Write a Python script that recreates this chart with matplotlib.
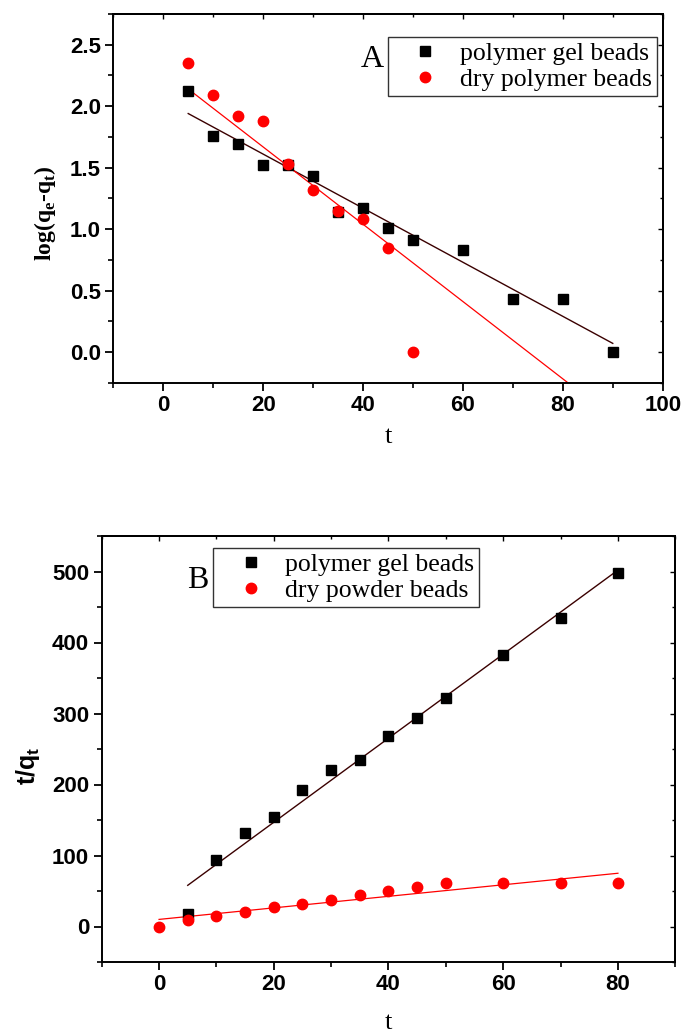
import matplotlib
matplotlib.use('Agg')
import matplotlib.pyplot as plt
from matplotlib.ticker import MultipleLocator

# ---------------- data: panel A (pseudo-first-order) ----------------
tA_gel = [5, 10, 15, 20, 25, 30, 35, 40, 45, 50, 60, 70, 80, 90]
logA_gel = [2.12, 1.76, 1.69, 1.52, 1.52, 1.43, 1.14, 1.17, 1.01, 0.91, 0.83, 0.43, 0.43, 0.00]
tA_dry = [5, 10, 15, 20, 25, 30, 35, 40, 45, 50]
logA_dry = [2.35, 2.09, 1.92, 1.88, 1.53, 1.32, 1.15, 1.08, 0.85, 0.00]
fitA_gel_t = [5, 90]
fitA_gel_y = [1.94, 0.07]
fitA_dry_t = [5, 81]
fitA_dry_y = [2.14, -0.25]
labelsA = ['polymer gel beads', 'dry polymer beads']

# ---------------- data: panel B (pseudo-second-order) ----------------
tB_gel = [5, 10, 15, 20, 25, 30, 35, 40, 45, 50, 60, 70, 80]
B_gel = [17, 94, 132, 154, 192, 220, 234, 269, 294, 322, 383, 435, 498]
tB_dry = [0, 5, 10, 15, 20, 25, 30, 35, 40, 45, 50, 60, 70, 80]
B_dry = [0, 9, 15, 21, 27, 32, 37, 44, 50, 55, 61, 61, 61, 61]
fitB_gel_t = [5, 80]
fitB_gel_y = [58, 502]
fitB_dry_t = [0, 80]
fitB_dry_y = [10, 75]
labelsB = ['polymer gel beads', 'dry powder beads']

W, H = 682, 1033
fig = plt.figure(figsize=(W / 100, H / 100), dpi=100)

SERIF = 'Liberation Serif'
SANS = 'Liberation Sans'
FIT_BLACK = '#3a0000'


def px_axes(l, r, t, b):
    return fig.add_axes([l / W, 1 - b / H, (r - l) / W, (b - t) / H])


def style(ax, xmaj, xmin, ymaj, ymin):
    for s in ax.spines.values():
        s.set_linewidth(1.4)
    ax.xaxis.set_major_locator(MultipleLocator(xmaj))
    ax.xaxis.set_minor_locator(MultipleLocator(xmin))
    ax.yaxis.set_major_locator(MultipleLocator(ymaj))
    ax.yaxis.set_minor_locator(MultipleLocator(ymin))
    ax.tick_params(which='major', direction='out', length=6, width=1.3, pad=3.0,
                   top=False, right=False)
    ax.tick_params(which='minor', direction='out', length=3.5, width=1.2,
                   top=False, right=False)
    ax2 = ax.secondary_xaxis('top')
    ax2.xaxis.set_major_locator(MultipleLocator(xmaj))
    ax2.xaxis.set_minor_locator(MultipleLocator(xmin))
    ax2.tick_params(which='major', direction='in', length=3.5, width=1.0, labeltop=False)
    ax2.tick_params(which='minor', direction='in', length=2.5, width=1.0)
    ax3 = ax.secondary_yaxis('right')
    ax3.yaxis.set_major_locator(MultipleLocator(ymaj))
    ax3.yaxis.set_minor_locator(MultipleLocator(ymin))
    ax3.tick_params(which='major', direction='in', length=3.5, width=1.0, labelright=False)
    ax3.tick_params(which='minor', direction='in', length=2.5, width=1.0)
    for sp in list(ax2.spines.values()) + list(ax3.spines.values()):
        sp.set_linewidth(1.4)
    for lab in ax.get_xticklabels() + ax.get_yticklabels():
        lab.set_fontfamily(SANS)
        lab.set_fontweight('bold')
        lab.set_fontsize(16)


LEG_KW = dict(borderaxespad=0, prop={'family': SERIF, 'size': 18.5}, frameon=True,
              fancybox=False, edgecolor='#333333', framealpha=1, handlelength=2.5,
              handletextpad=0.1, borderpad=0.2, labelspacing=0.12, markerscale=1.0)

# ---------------- panel A ----------------
axA = px_axes(113.3, 662.7, 14, 382.7)
axA.set_xlim(-10, 100)
axA.set_ylim(-0.25, 2.75)
axA.plot(fitA_gel_t, fitA_gel_y, color=FIT_BLACK, lw=1.0, zorder=2)
axA.plot(fitA_dry_t, fitA_dry_y, color='red', lw=0.9, zorder=2)
axA.plot(tA_gel, logA_gel, 's', color='black', ms=6.5, ls='none', label=labelsA[0], zorder=3)
axA.plot(tA_dry, logA_dry, 'o', color='red', ms=7.5, ls='none', label=labelsA[1], zorder=4)
style(axA, 20, 10, 0.5, 0.25)
axA.text((361 - 113.3) / 549.4, (382.7 - 66.7) / 368.7, 'A', transform=axA.transAxes,
         fontfamily=SERIF, fontsize=23, ha='left', va='baseline', zorder=1)
legA = axA.legend(loc='upper right',
                  bbox_to_anchor=((657 - 113.3) / 549.4, (382.7 - 37) / 368.7), **LEG_KW)
legA.get_frame().set_linewidth(1.0)
legA.set_zorder(5)

fig.text(45 / W, 1 - 213 / H, r'log(q$_\mathregular{e}$-q$_\mathregular{t}$)', rotation=90,
         fontfamily=SERIF, fontweight='bold', fontsize=17, ha='center', va='center')
fig.text(388 / W, 1 - 437 / H, 't', fontfamily=SERIF, fontsize=19, ha='center', va='center')

# ---------------- panel B ----------------
axB = px_axes(101.7, 675.3, 536, 962)
axB.set_xlim(-10, 90)
axB.set_ylim(-50, 550)
axB.plot(fitB_gel_t, fitB_gel_y, color=FIT_BLACK, lw=1.0, zorder=2)
axB.plot(fitB_dry_t, fitB_dry_y, color='red', lw=0.9, zorder=2)
axB.plot(tB_gel, B_gel, 's', color='black', ms=6.5, ls='none', label=labelsB[0], zorder=3)
axB.plot(tB_dry, B_dry, 'o', color='red', ms=7.5, ls='none', label=labelsB[1], zorder=4)
style(axB, 20, 10, 100, 50)
axB.text((186.7 - 101.7) / 573.6, (962 - 588.3) / 426, 'B', transform=axB.transAxes,
         fontfamily=SERIF, fontsize=23, ha='left', va='baseline', zorder=1)
legB = axB.legend(loc='upper left',
                  bbox_to_anchor=((213.3 - 101.7) / 573.6, (962 - 547.7) / 426), **LEG_KW)
legB.get_frame().set_linewidth(1.0)
legB.set_zorder(5)

fig.text(28 / W, 1 - 766 / H, r't/q$_\mathregular{t}$', rotation=90,
         fontfamily=SANS, fontweight='bold', fontsize=18, ha='center', va='center')
fig.text(388 / W, 1 - 1023 / H, 't', fontfamily=SERIF, fontsize=19, ha='center', va='center')

fig.savefig('out.png', dpi=100)
